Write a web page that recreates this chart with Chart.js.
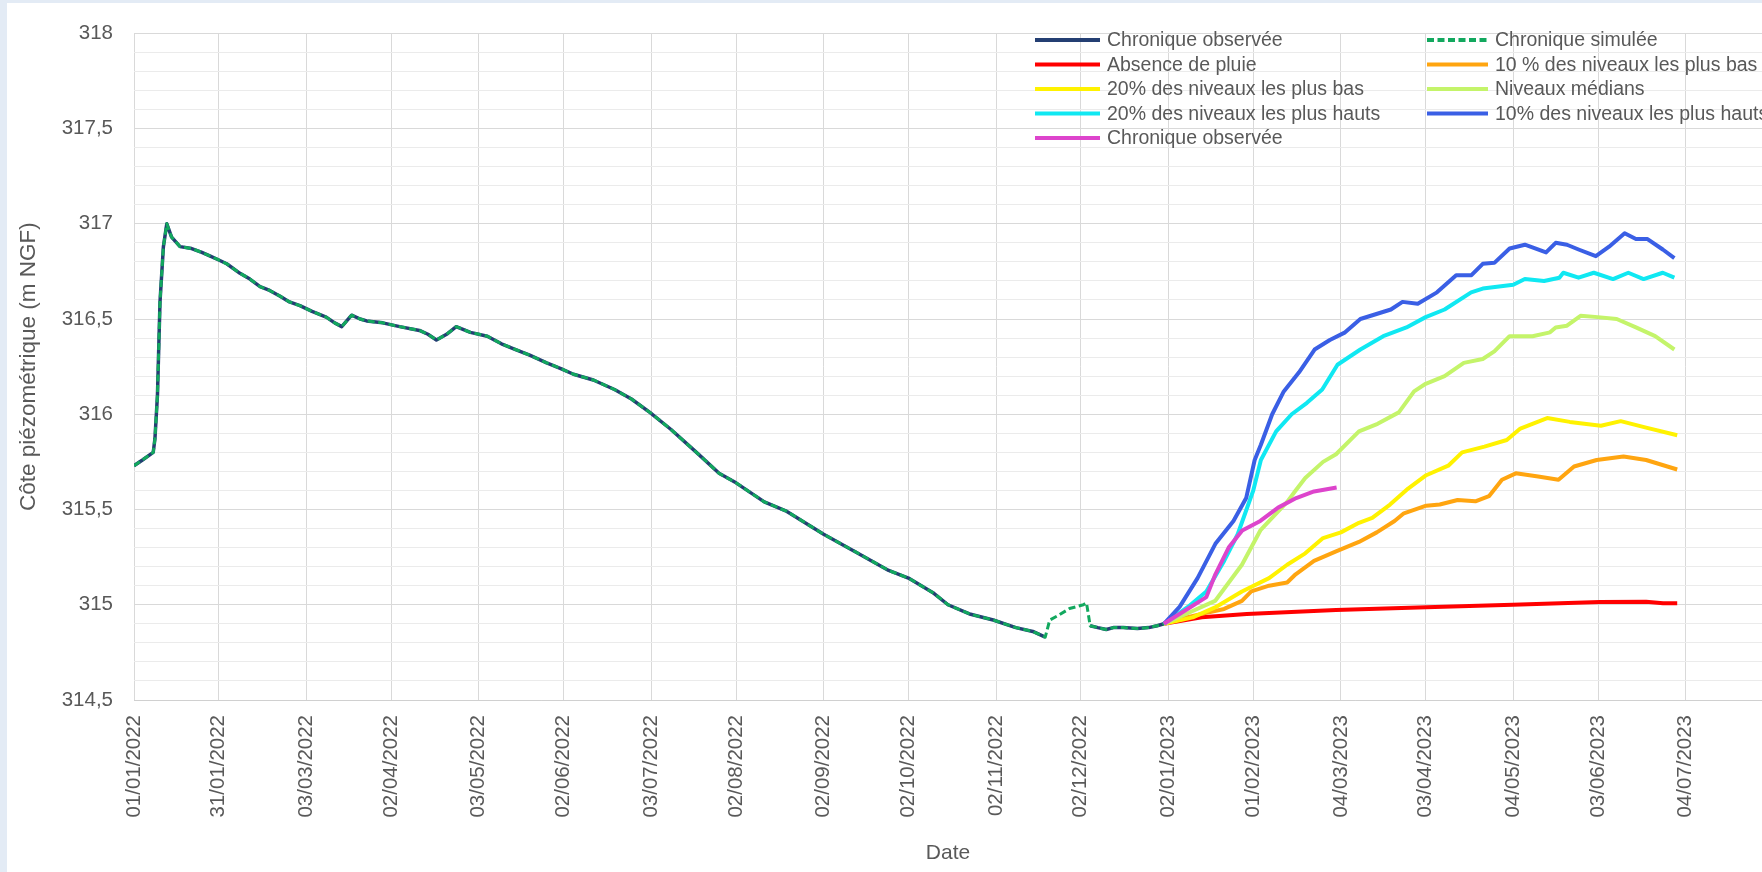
<!DOCTYPE html>
<html lang="fr">
<head>
<meta charset="utf-8">
<title>Côte piézométrique</title>
<script src="https://cdn.jsdelivr.net/npm/chart.js@4.4.1/dist/chart.umd.min.js"></script>
<style>
  html, body { margin: 0; padding: 0; }
  body { width: 1762px; height: 872px; background: #e3ebf5; position: relative; overflow: hidden; }
  .panel { position: absolute; left: 7px; top: 3px; right: 0; bottom: 0; background: #fff; }
  #chart { position: absolute; left: 0; top: 0; }
</style>
</head>
<body>
<div class="panel"></div>
<canvas id="chart" width="1762" height="872"></canvas>
<script>
  const FONT = "'Liberation Sans', Arial, sans-serif";
  const TEXT = "#595959";

  // ---------------- Data (x = days since 01/01/2022, y = m NGF) ----------------
  const tickLabels = [
    "01/01/2022", "31/01/2022", "03/03/2022", "02/04/2022", "03/05/2022", "02/06/2022",
    "03/07/2022", "02/08/2022", "02/09/2022", "02/10/2022", "02/11/2022", "02/12/2022",
    "02/01/2023", "01/02/2023", "04/03/2023", "03/04/2023", "04/05/2023", "03/06/2023", "04/07/2023",
  ];

  const days2022 = [0, 3, 6.8, 7.4, 8.3, 9.2, 10.4, 11.6, 13.3, 16.3, 20.4, 24, 27, 30, 32.8, 37.5, 41, 44.6, 48, 51.7,
    55, 58.7, 63, 68, 71, 73.5, 77, 80, 82.3, 88, 94, 101, 104, 107, 110.6, 114, 119, 125, 130, 135, 140, 146, 151,
    155.5, 162.5, 170, 176, 182.5, 190, 199, 207, 213, 223, 231, 244, 255, 267, 274, 283, 288, 296, 304, 312, 318,
    322.4, 324, 326.5, 331, 335.9, 337, 338.3, 341, 344, 346.5, 350, 355, 359, 362, 364.4];
  const levels2022 = [315.73, 315.76, 315.80, 315.87, 316.10, 316.59, 316.88, 317.00, 316.93, 316.88, 316.87, 316.85,
    316.83, 316.81, 316.79, 316.74, 316.71, 316.67, 316.65, 316.62, 316.59, 316.57, 316.54, 316.51, 316.48, 316.46,
    316.52, 316.50, 316.49, 316.48, 316.46, 316.44, 316.42, 316.39, 316.42, 316.46, 316.43, 316.41, 316.37, 316.34,
    316.31, 316.27, 316.24, 316.21, 316.18, 316.13, 316.08, 316.01, 315.92, 315.80, 315.69, 315.64, 315.54, 315.49,
    315.37, 315.28, 315.18, 315.14, 315.06, 315.00, 314.95, 314.92, 314.88, 314.86, 314.83, 314.92, 314.94, 314.98,
    315.00, 315.01, 314.89, 314.88, 314.87, 314.88, 314.88, 314.875, 314.88, 314.89, 314.90];
  // observed series has no measurements between these days (only the simulated one is drawn)
  const obsGap = [323, 338];

  const noRainDays = [364.4, 377.8, 393.7, 425.3, 457.2, 487.8, 518.6, 535, 541, 546];
  const noRainLevels = [314.90, 314.934, 314.952, 314.973, 314.987, 315.0, 315.015, 315.016, 315.008, 315.008];

  const low10Days = [364.4, 370, 377.8, 385.7, 392, 395.3, 401.6, 408, 411, 417.5, 425.3, 433.4, 439.7, 446, 449.3,
    457.2, 462, 468.3, 474.6, 479.4, 484, 488.9, 496.8, 504, 509.5, 517.5, 527, 535, 546];
  const low10Levels = [314.90, 314.925, 314.952, 314.978, 315.02, 315.07, 315.10, 315.117, 315.16, 315.23, 315.28,
    315.33, 315.38, 315.44, 315.48, 315.52, 315.526, 315.55, 315.543, 315.57, 315.656, 315.69, 315.673, 315.656,
    315.726, 315.76, 315.778, 315.76, 315.71];

  const low20Days = [364.4, 374.6, 382.5, 392, 401.6, 408, 414.4, 420.7, 427, 433.4, 438.1, 444.4, 450.8, 457.2, 465,
    469.9, 477.8, 485.7, 490.5, 500, 508, 519, 526, 535, 546];
  const low20Levels = [314.90, 314.934, 314.986, 315.07, 315.14, 315.21, 315.27, 315.35, 315.38, 315.43, 315.456,
    315.526, 315.61, 315.68, 315.73, 315.80, 315.83, 315.865, 315.925, 315.98, 315.96, 315.94, 315.964, 315.93, 315.89];

  const medianDays = [364.4, 372, 382.5, 392, 398.5, 408, 411, 414.4, 420.7, 425.3, 433.4, 440, 447.5, 452.9, 457,
    463.7, 470.5, 477.2, 481.3, 486.7, 494.8, 501, 503, 507, 511.8, 517.9, 524.6, 531.4, 538.2, 545];
  const medianLevels = [314.90, 314.95, 315.02, 315.21, 315.39, 315.54, 315.60, 315.665, 315.75, 315.79, 315.91,
    315.95, 316.01, 316.12, 316.16, 316.20, 316.27, 316.29, 316.33, 316.41, 316.41, 316.43, 316.456, 316.465, 316.517,
    316.51, 316.50, 316.456, 316.41, 316.34];

  const high20Days = [364.4, 373, 379.4, 385.7, 390.5, 396, 398.7, 404.1, 409.6, 415, 420.4, 425.8, 433.9, 442, 450.2,
    457, 463.7, 473.1, 477.2, 488, 492.1, 498.9, 504.3, 505.7, 511.1, 516.5, 523.3, 528.7, 534.1, 540.9, 545];
  const high20Levels = [314.90, 314.99, 315.07, 315.23, 315.37, 315.60, 315.76, 315.91, 316.00, 316.06, 316.13,
    316.26, 316.34, 316.41, 316.456, 316.51, 316.55, 316.64, 316.66, 316.68, 316.71, 316.70, 316.717, 316.743, 316.717,
    316.743, 316.71, 316.743, 316.71, 316.743, 316.717];

  const high10Days = [364.4, 370, 376.3, 382.6, 389, 393.5, 396.5, 398.7, 402.7, 406.8, 412.2, 417.7, 423.1, 428.5,
    433.9, 439.3, 444.7, 448.8, 454.2, 461, 467.8, 473.2, 477.2, 481.3, 486.7, 492.1, 499.6, 503, 507, 511.1, 517.2,
    521.9, 527.4, 531.4, 535.5, 540.9, 545];
  const high10Levels = [314.90, 314.99, 315.14, 315.32, 315.44, 315.56, 315.76, 315.84, 316.00, 316.12, 316.22,
    316.34, 316.39, 316.43, 316.50, 316.525, 316.55, 316.59, 316.58, 316.64, 316.73, 316.73, 316.79, 316.795, 316.87,
    316.89, 316.85, 316.90, 316.89, 316.865, 316.83, 316.88, 316.95, 316.92, 316.92, 316.865, 316.82];

  const obs2023Days = [364.4, 373, 379.4, 382.6, 387.3, 392.1, 398.5, 404.8, 411.2, 417.5, 425.5];
  const obs2023Levels = [314.90, 314.98, 315.04, 315.16, 315.30, 315.39, 315.44, 315.51, 315.56, 315.595, 315.616];

  // ---------------- Helpers ----------------
  const toDay = (s) => {
    const [d, m, y] = s.split("/").map(Number);
    return (Date.UTC(y, m - 1, d) - Date.UTC(2022, 0, 1)) / 864e5;
  };
  const tickDays = tickLabels.map(toDay);
  const pts = (xs, ys) => xs.map((x, i) => ({ x, y: ys[i] }));
  const isMajor = (v) => Math.abs(v * 2 - Math.round(v * 2)) < 1e-6;
  const fmtY = (v) => String(Math.round(v * 10) / 10).replace(".", ",");

  const obsLevels = levels2022.map((v, i) => (days2022[i] > obsGap[0] && days2022[i] < obsGap[1] ? null : v));

  // legend order = dataset order (two columns, row-major)
  const series = [
    { label: "Chronique observée", color: "#243F73", width: 3.5, data: pts(days2022, obsLevels) },
    { label: "Chronique simulée", color: "#12A85E", width: 3, dash: [7, 3.5], data: pts(days2022, levels2022) },
    { label: "Absence de pluie", color: "#FF0000", width: 4, data: pts(noRainDays, noRainLevels) },
    { label: "10 % des niveaux les plus bas", color: "#FFA510", width: 4, data: pts(low10Days, low10Levels) },
    { label: "20% des niveaux les plus bas", color: "#FFF200", width: 4, data: pts(low20Days, low20Levels) },
    { label: "Niveaux médians", color: "#C4F46A", width: 4, data: pts(medianDays, medianLevels) },
    { label: "20% des niveaux les plus hauts", color: "#10E8F2", width: 4, data: pts(high20Days, high20Levels) },
    { label: "10% des niveaux les plus hauts", color: "#3A5FE5", width: 4, data: pts(high10Days, high10Levels) },
    { label: "Chronique observée", color: "#DD44CC", width: 4, data: pts(obs2023Days, obs2023Levels) },
  ];

  // ---------------- Two-column legend drawn on the canvas ----------------
  const columnLegend = {
    id: "columnLegend",
    afterDraw(chart) {
      const ctx = chart.ctx;
      const colX = [1035, 1427];
      const lineLen = [65, 61];
      const rowY0 = 40, rowH = 24.5;
      ctx.save();
      ctx.font = `19.5px ${FONT}`;
      ctx.textBaseline = "middle";
      ctx.fillStyle = TEXT;
      chart.data.datasets.forEach((ds, i) => {
        const col = i % 2, row = Math.floor(i / 2);
        const x = colX[col], y = rowY0 + row * rowH;
        ctx.beginPath();
        ctx.setLineDash(ds.borderDash || []);
        ctx.lineWidth = 4;
        ctx.strokeStyle = ds.borderColor;
        ctx.moveTo(x, y);
        ctx.lineTo(x + lineLen[col], y);
        ctx.stroke();
        ctx.setLineDash([]);
        ctx.fillText(ds.label, x + lineLen[col] + 7, y + 1);
      });
      ctx.restore();
    },
  };

  // ---------------- Chart ----------------
  new Chart(document.getElementById("chart"), {
    type: "line",
    data: {
      datasets: series.map((s, i) => ({
        label: s.label,
        data: s.data,
        borderColor: s.color,
        backgroundColor: s.color,
        borderWidth: s.width,
        borderDash: s.dash || [],
        spanGaps: false,
        order: -i, // later series on top, as in the spreadsheet
      })),
    },
    options: {
      responsive: false,
      animation: false,
      devicePixelRatio: 1,
      layout: { padding: { left: 0, top: 29, right: 0, bottom: 0 } },
      elements: {
        point: { radius: 0, hoverRadius: 0 },
        line: { tension: 0, borderJoinStyle: "round" },
      },
      plugins: { legend: { display: false }, tooltip: { enabled: false } },
      scales: {
        x: {
          type: "linear",
          min: 0,
          max: 576,
          afterBuildTicks: (s) => { s.ticks = tickDays.map((v) => ({ value: v })); },
          afterFit: (s) => { s.height = 172; },
          ticks: {
            autoSkip: false,
            minRotation: 90,
            maxRotation: 90,
            padding: 15,
            color: TEXT,
            font: { family: FONT, size: 20.5 },
            callback: (v, i) => tickLabels[i],
          },
          grid: { color: "#d9d9d9", drawTicks: false },
          border: { display: true, color: "#d0d0d0" },
          title: {
            display: true, text: "Date", color: TEXT,
            font: { family: FONT, size: 21 }, padding: { top: 0, bottom: 6 },
          },
        },
        y: {
          min: 314.5,
          max: 318,
          afterFit: (s) => { s.width = 134; },
          ticks: {
            stepSize: 0.1,
            autoSkip: false,
            padding: 21,
            color: TEXT,
            font: { family: FONT, size: 20.5 },
            callback: (v) => (isMajor(v) ? fmtY(v) : ""),
          },
          grid: {
            drawTicks: false,
            color: (c) => (isMajor(c.tick.value) ? "#d9d9d9" : "#ebebeb"),
          },
          border: { display: false },
          title: {
            display: true, text: "Côte piézométrique (m NGF)", color: TEXT,
            font: { family: FONT, size: 22.5 }, padding: { top: 15, bottom: 0 },
          },
        },
      },
    },
    plugins: [columnLegend],
  });
</script>
</body>
</html>
